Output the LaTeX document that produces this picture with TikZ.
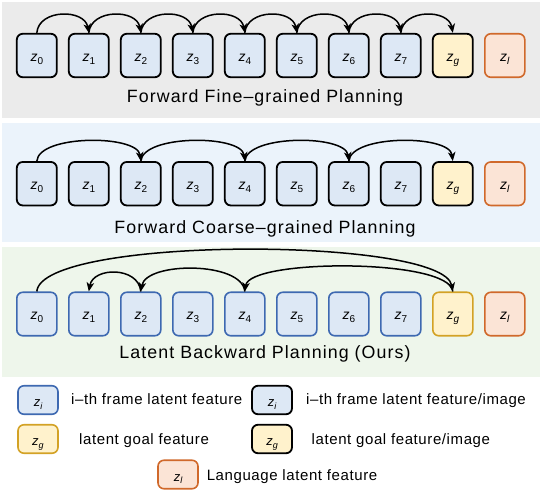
\documentclass[tikz,border=0pt]{standalone}
\usepackage{fontspec}
\setmainfont{Liberation Sans}
\newfontfamily\titlefont{Liberation Sans}[LetterSpace=6]
\newfontfamily\legfont{Liberation Sans}[LetterSpace=4]
\usetikzlibrary{arrows.meta}
\definecolor{bgGray}{HTML}{EBEBEB}
\definecolor{bgBlue}{HTML}{EBF3FB}
\definecolor{bgGreen}{HTML}{EEF6EB}
\definecolor{fillBlue}{HTML}{DDE8F5}
\definecolor{lineBlue}{HTML}{3E69B1}
\definecolor{fillYellow}{HTML}{FFF2CC}
\definecolor{lineGold}{HTML}{D3A225}
\definecolor{fillOrange}{HTML}{FBE4D6}
\definecolor{lineOrange}{HTML}{D0692B}
\newcommand{\zlab}[1]{{\fontsize{14}{14}\selectfont\itshape z}\raisebox{-2.7pt}{\fontsize{10}{10}\selectfont #1}}
\newcommand{\zleg}[1]{{\fontsize{13}{13}\selectfont\itshape z}\raisebox{-2.5pt}{\fontsize{9}{9}\selectfont #1}}
\begin{document}
\begin{tikzpicture}[x=1pt,y=1pt,
  zbox/.style={rectangle, rounded corners=6pt, minimum width=40pt, minimum height=43.5pt,
     inner sep=0pt, text height=13pt, text depth=1.4pt},
  kbox/.style={zbox, draw=black, line width=1.8pt, fill=fillBlue},
  bbox/.style={zbox, draw=lineBlue, line width=1.6pt, fill=fillBlue},
  kgoal/.style={zbox, draw=black, line width=1.8pt, fill=fillYellow},
  ggoal/.style={zbox, draw=lineGold, line width=1.6pt, fill=fillYellow},
  lang/.style={zbox, draw=lineOrange, line width=1.6pt, fill=fillOrange},
  legbox/.style={minimum height=28.5pt, text height=14pt, text depth=0.6pt},
  ttl/.style={anchor=base, inner sep=0pt, font=\titlefont\fontsize{17.8}{20}\selectfont},
  legtxt/.style={anchor=base west, inner sep=0pt, font=\legfont\fontsize{15}{17}\selectfont},
  arr/.style={line width=1.5pt, -{Stealth[length=9pt,width=7.5pt,inset=2.5pt]}}
]
\useasboundingbox (0,0) rectangle (540,-491);
% panels
\fill[bgGray]  (2,-2)   rectangle (540,-118);
\fill[bgBlue]  (2,-123) rectangle (540,-242);
\fill[bgGreen] (2,-247) rectangle (540,-377);

% panel 1
\foreach \i in {0,...,7}
  \node[kbox] (A\i) at ({36.8+52*\i},-55.5) {\zlab{\i}};
\node[kgoal] (A8) at ({36.8+52*8},-55.5) {\zlab{\itshape g}};
\node[lang]  (A9) at ({36.8+52*9},-55.5) {\zlab{\itshape l}};
\foreach \i [evaluate=\i as \j using int(\i+1)] in {0,...,7}
  \draw[arr] (A\i.north) to[out=85,in=100,looseness=1.2] (A\j.north);
\node[ttl] (T1) at (265,-102) {Forward Fine–grained Planning};

% panel 2
\foreach \i in {0,...,7}
  \node[kbox] (B\i) at ({36.8+52*\i},-183.7) {\zlab{\i}};
\node[kgoal] (B8) at ({36.8+52*8},-183.7) {\zlab{\itshape g}};
\node[lang]  (B9) at ({36.8+52*9},-183.7) {\zlab{\itshape l}};
\foreach \i/\j in {0/2,2/4,4/6,6/8}
  \draw[arr] (B\i.north) to[out=85,in=97,looseness=0.66] (B\j.north);
\node[ttl] (T2) at (265,-233.5) {Forward Coarse–grained Planning};

% panel 3
\foreach \i in {0,...,7}
  \node[bbox] (C\i) at ({36.8+52*\i},-314) {\zlab{\i}};
\node[ggoal] (C8) at ({36.8+52*8},-314) {\zlab{\itshape g}};
\node[lang]  (C9) at ({36.8+52*9},-314) {\zlab{\itshape l}};
\draw[arr] (C0.north) to[out=85,in=100,looseness=0.345] (C8.north);
\draw[arr] (C8.north) to[out=95,in=82,looseness=0.41] (C4.north);
\draw[arr] (C4.north) to[out=95,in=80,looseness=0.75] (C2.north);
\draw[arr] (C2.north) to[out=95,in=80,looseness=1.24] (C1.north);
\node[ttl] (T3) at (265,-358) {Latent Backward Planning (Ours)};

% legend
\node[bbox,legbox]  (L1) at (38,-400)  {\zleg{\itshape i}};
\node[legtxt] (L1t) at (71,-404) {i–th frame latent feature};
\node[kbox,legbox]  (L2) at (272,-400) {\zleg{\itshape i}};
\node[legtxt] (L2t) at (306,-404) {i–th frame latent feature/image};
\node[ggoal,legbox] (L3) at (38,-439)  {\zleg{\itshape g}};
\node[legtxt] (L3t) at (79,-444) {latent goal feature};
\node[kgoal,legbox] (L4) at (272,-439) {\zleg{\itshape g}};
\node[legtxt] (L4t) at (311.5,-444) {latent goal feature/image};
\node[lang,legbox]  (L5) at (178,-474.5) {\zleg{\itshape l}};
\node[legtxt] (L5t) at (206.6,-480) {Language latent feature};
\end{tikzpicture}
\end{document}
